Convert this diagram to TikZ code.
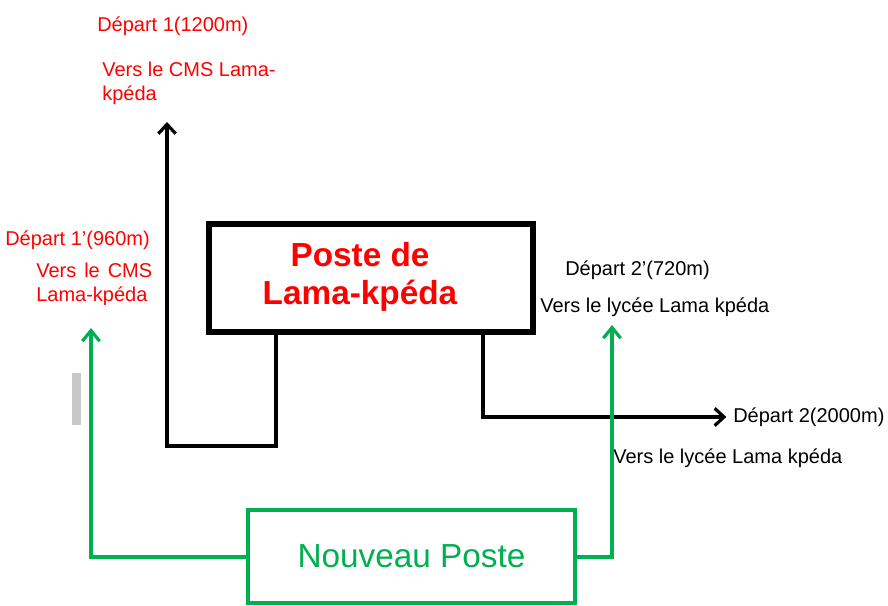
\documentclass[tikz,border=0pt]{standalone}
\usepackage{fontspec}
\setmainfont{Liberation Sans}
\usetikzlibrary{arrows.meta,positioning,calc}
\definecolor{vert}{RGB}{0,176,80}
\definecolor{gris}{RGB}{200,200,200}

\begin{document}
\begin{tikzpicture}[x=0.75pt,y=-0.75pt,
  lbl/.style={font=\fontsize{15}{18}\selectfont,inner sep=0pt,anchor=west},
  leg/.style={line width=3.2pt,line join=miter,-{Straight Barb[length=7pt,width=13pt,line width=2.4pt]}},
  vleg/.style={vert,line width=3pt,-{Straight Barb[length=8pt,width=13pt,line width=2.4pt]}}]
  \useasboundingbox (0,0) rectangle (888,606);
  % ancien poste
  \node[draw,line width=3.8pt,minimum width=243pt,minimum height=81pt] (poste) at (371,278) {};
  \node[red,font=\fontsize{25}{28.5}\selectfont\bfseries,align=center] (postetxt) at (360,277) {Poste de\\Lama-kpéda};
  % nouveau poste
  \node[draw=vert,line width=3pt,minimum width=245pt,minimum height=70pt,text=vert,
        font=\fontsize{25}{30}\selectfont] (nouv) at (411.5,556.5) {Nouveau Poste};
  % textes
  \node[lbl,red] (d1) at (97,26) {Départ 1(1200m)};
  \node[lbl,red,anchor=north west,align=left] (v1) at (102,62) {Vers le CMS Lama-\\kpéda};
  \node[lbl,red] (d1p) at (5,240) {Départ 1’(960m)};
  \node[lbl,red,anchor=north west,text width=87pt,align=justify] (v1p) at (36,263) {Vers le CMS Lama-kpéda};
  \node[lbl] (d2p) at (565,270) {Départ 2’(720m)};
  \node[lbl] (v2p) at (540,307) {Vers le lycée Lama kpéda};
  \node[lbl] (d2) at (733,417) {Départ 2(2000m)};
  \node[lbl] (v2) at (613,458) {Vers le lycée Lama kpéda};
  \fill[gris] (72,373) rectangle (81,425);
  % departs de l'ancien poste
  \coordinate (cL) at (276,446);
  \coordinate (tipA) at (167,122);
  \coordinate (cR) at (483,415);
  \draw[leg] (poste.south -| cL) -- (cL) -- (cL -| tipA) -- (tipA);
  \draw[leg,shorten >=5pt] (poste.south -| cR) |- (d2.west);
  % departs du nouveau poste
  \coordinate (tipL) at (91,328);
  \coordinate (tipR) at (612,325);
  \draw[vleg] (nouv.west) -| (tipL);
  \draw[vleg] (nouv.east) -| (tipR);
\end{tikzpicture}
\end{document}
